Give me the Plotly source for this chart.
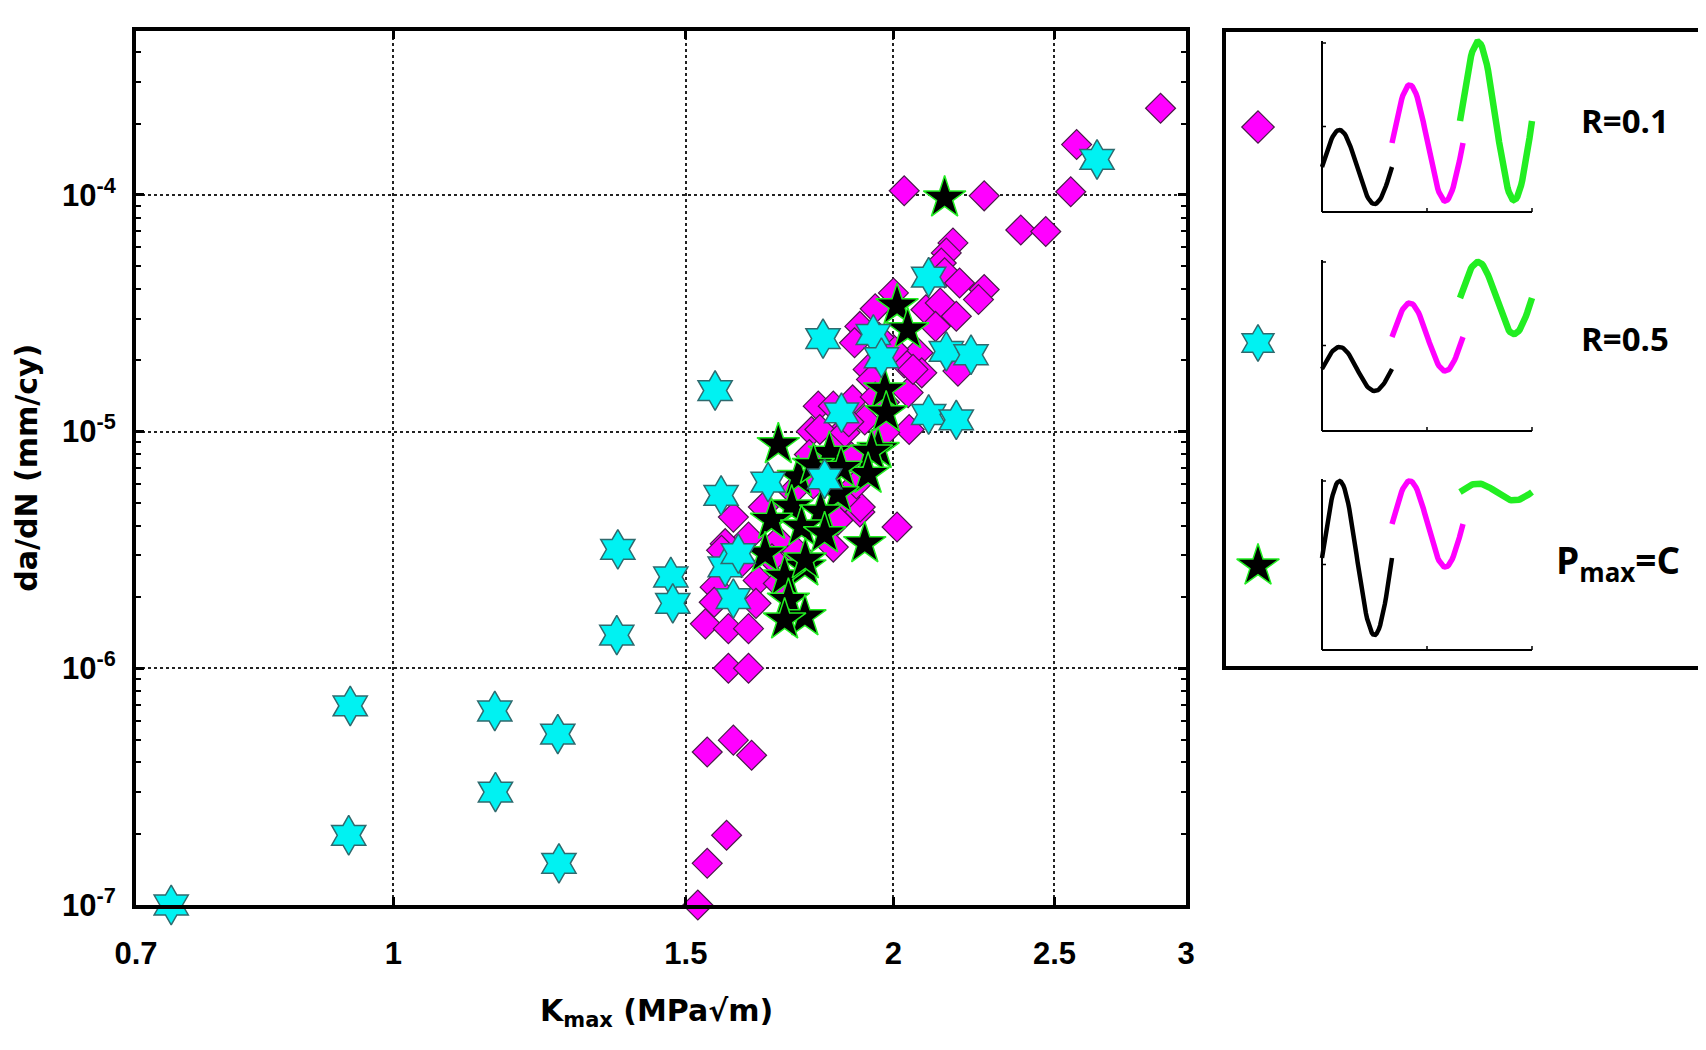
import numpy as np
import plotly.graph_objects as go

# ---------------- data ----------------
r01_kmax = [2.896, 2.578, 2.557, 2.03, 2.268, 2.386, 2.47, 2.172, 2.152, 2.137, 2.147, 2.192,
            2.268, 2.25, 2.0, 2.092, 2.134, 2.182, 2.12, 2.187, 2.069, 2.08, 2.041, 2.044,
            1.909, 1.895, 1.931, 1.94, 2.03, 1.802, 1.785, 1.852, 1.922, 1.84, 1.89, 1.975,
            2.0, 2.055, 1.95, 2.01, 1.909, 1.976, 1.806, 1.87, 1.887, 1.91, 1.602, 1.852,
            1.87, 1.67, 1.636, 1.584, 1.576, 1.84, 1.705, 1.658, 1.705, 1.562, 1.653, 1.56,
            1.541, 1.591, 1.636, 1.591, 1.636, 1.545, 1.602, 1.643, 1.587, 1.545, 1.525,
            1.74, 1.79, 1.82, 1.78, 1.88, 1.95, 1.62, 1.69, 1.75, 1.9, 1.96]
r01_dadn = [2.32e-4, 1.63e-4, 1.03e-4, 1.04e-4, 9.9e-5, 7.1e-5, 7.0e-5, 6.26e-5, 5.68e-5, 5.15e-5, 4.68e-5, 4.24e-5,
            3.98e-5, 3.61e-5, 3.85e-5, 3.27e-5, 3.49e-5, 3.07e-5, 2.78e-5, 1.8e-5, 2.15e-5, 1.77e-5, 1.46e-5, 1.02e-5,
            2.78e-5, 2.37e-5, 1.83e-5, 1.66e-5, 1.95e-5, 1.28e-5, 1.0e-5, 9.6e-6, 1.12e-5, 1.28e-5, 1.36e-5, 1.33e-5,
            2.22e-5, 1.83e-5, 3.3e-5, 3.95e-6, 4.57e-6, 9.9e-6, 1.02e-5, 9.9e-6, 7.8e-6, 4.8e-6, 4.35e-6, 4.22e-6,
            5.28e-6, 4.8e-6, 3.58e-6, 3.36e-6, 3.15e-6, 3.25e-6, 3.47e-6, 2.35e-6, 2.28e-6, 2.2e-6, 1.88e-6, 1.9e-6,
            1.54e-6, 1.47e-6, 1.47e-6, 1.0e-6, 1.0e-6, 4.43e-7, 4.97e-7, 4.29e-7, 1.97e-7, 1.5e-7, 1.0e-7,
            5.6e-6, 6.0e-6, 7.0e-6, 8.0e-6, 1.1e-5, 1.4e-5, 2.8e-6, 2.9e-6, 3.1e-6, 6.0e-6, 2.5e-5]

r05_kmax = [0.735, 0.942, 0.94, 1.151, 1.256, 1.152, 1.258, 1.365, 1.363, 1.469, 1.473, 1.562,
            1.575, 1.602, 1.584, 1.613, 1.681, 1.818, 1.814, 1.861, 1.945, 1.967, 2.10, 2.152,
            2.227, 2.10, 2.182, 2.652]
r05_dadn = [1.0e-7, 6.93e-7, 1.97e-7, 6.6e-7, 5.27e-7, 3.0e-7, 1.5e-7, 3.18e-6, 1.38e-6, 2.43e-6, 1.88e-6, 1.49e-5,
            5.37e-6, 1.97e-6, 2.68e-6, 3.05e-6, 6.11e-6, 6.31e-6, 2.47e-5, 1.2e-5, 2.57e-5, 2.05e-5, 4.49e-5, 2.18e-5,
            2.11e-5, 1.18e-5, 1.12e-5, 1.41e-4]

pmax_kmax = [2.147, 2.01, 2.04, 1.976, 1.98, 1.958, 1.705, 1.83, 1.94, 1.931, 1.753, 1.852,
             1.737, 1.808, 1.689, 1.761, 1.818, 1.922, 1.674, 1.769, 1.72, 1.729, 1.769, 1.72,
             1.77, 1.79, 1.86]
pmax_dadn = [9.7e-5, 3.4e-5, 2.69e-5, 1.5e-5, 1.2e-5, 8.4e-6, 8.8e-6, 8.1e-6, 8.2e-6, 6.6e-6, 6.4e-6, 5.46e-6,
             4.8e-6, 4.57e-6, 4.22e-6, 3.95e-6, 3.7e-6, 3.36e-6, 3.05e-6, 2.68e-6, 2.43e-6, 1.94e-6, 1.65e-6, 1.6e-6,
             2.87e-6, 7.2e-6, 7.0e-6]

x_tickvals = [0.7, 1, 1.5, 2, 2.5, 3]
x_ticktext = ["0.7", "1", "1.5", "2", "2.5", "3"]
y_tickvals = [1e-7, 1e-6, 1e-5, 1e-4]
y_ticktext = ["10<sup>-7</sup>", "10<sup>-6</sup>", "10<sup>-5</sup>", "10<sup>-4</sup>"]
y_minor_vals = [m * 10.0 ** e for e in range(-7, -3) for m in range(2, 10)] + [2e-4, 3e-4, 4e-4]

x_title = "K<sub>max</sub> (MPa√m)"
y_title = "da/dN (mm/cy)"
legend_labels = ["R=0.1", "R=0.5", "P<sub>max</sub>=C"]
legend_sizes = [33, 33, 37]

# legend wave icons: (mean height above icon baseline, amplitude) for black, magenta, green waves per row
wave_black = [(45, 37), (62, 22), (92, 77)]
wave_magenta = [(69, 58), (94, 34), (126, 43)]
wave_green = [(91, 79), (133, 36), (158, 8.5)]

# ---------------- style / layout ----------------
# page body has an 8 px margin: the figure starts at screen (8, 8)
OFF = 8
SW, SH = 1706, 1050            # screen size
FW, FH = SW - OFF, SH - 2 * OFF  # figure size
PL, PR, PT, PB = 136, 1186, 30.5, 905   # plot frame in screen px


def fx(v):
    return (v - OFF) / FW


def fy(v):
    return 1 - (v - OFF) / FH


MAG = "#ff00ff"
CYA = "#00f2f2"
DIA_SIZE = 23
HEX_SIZE = 30
STAR_SIZE = 32

tick_font = dict(family="Liberation Sans, Arial, sans-serif", size=31, color="black", weight="bold")
title_font = dict(family="DejaVu Sans, sans-serif", size=30, color="black", weight="bold")

fig = go.Figure()

fig.add_trace(go.Scatter(
    x=r01_kmax, y=r01_dadn, mode="markers", name="R=0.1",
    marker=dict(symbol="diamond", size=DIA_SIZE, color=MAG, line=dict(color="#4a1a4a", width=1.2)),
    xaxis="x", yaxis="y", cliponaxis=False))
fig.add_trace(go.Scatter(
    x=pmax_kmax, y=pmax_dadn, mode="markers", name="Pmax=C",
    marker=dict(symbol="star", size=STAR_SIZE, color="black", line=dict(color="#22ee22", width=1.5)),
    xaxis="x", yaxis="y", cliponaxis=False))
fig.add_trace(go.Scatter(
    x=r05_kmax, y=r05_dadn, mode="markers", name="R=0.5",
    marker=dict(symbol="hexagram", size=HEX_SIZE, color=CYA, line=dict(color="#2f6a6e", width=1.5)),
    xaxis="x", yaxis="y", cliponaxis=False))

# ---------------- custom legend (drawn on a screen-pixel overlay axis) ----------------
box = dict(x0=1224, y0=30, x1=1703, y1=668)
row_base = [212, 431, 650]       # icon axis baseline (px)
row_top = [41, 260, 479]
icon_x0, icon_x1, icon_mid = 1322, 1532, 1427
marker_x = 1258
marker_y = [127, 343, 566]
text_x = [1625, 1625, 1618]
text_y = [120, 338, 562]
seg = [(1322, 1392, "black", 4.5, wave_black),
       (1392, 1463, MAG, 5.5, wave_magenta),
       (1460, 1532, "#22ee22", 6.5, wave_green)]

shapes = [dict(type="rect", xref="x2", yref="y2", **box, line=dict(color="black", width=4))]

for i in range(3):
    b, t = row_base[i], row_top[i]
    shapes.append(dict(type="line", xref="x2", yref="y2", x0=icon_x0, x1=icon_x0, y0=t, y1=b,
                       line=dict(color="black", width=2)))
    shapes.append(dict(type="line", xref="x2", yref="y2", x0=icon_x0, x1=icon_x1, y0=b, y1=b,
                       line=dict(color="black", width=2)))
    for tx in (icon_mid, icon_x1):
        shapes.append(dict(type="line", xref="x2", yref="y2", x0=tx, x1=tx, y0=b, y1=b - 4,
                           line=dict(color="black", width=1.5)))
    for ty in (t + 2, (t + b) / 2):
        shapes.append(dict(type="line", xref="x2", yref="y2", x0=icon_x0, x1=icon_x0 + 4, y0=ty, y1=ty,
                           line=dict(color="black", width=1.5)))
    for (xa, xb, col, lw, params) in seg:
        mean, amp = params[i]
        xs = np.linspace(xa, xb, 60)
        ys = b - (mean + amp * np.sin(2 * np.pi * (xs - xa) / (xb - xa)))
        fig.add_trace(go.Scatter(x=xs, y=ys, mode="lines", line=dict(color=col, width=lw),
                                 xaxis="x2", yaxis="y2", hoverinfo="skip", showlegend=False))

fig.add_trace(go.Scatter(x=[marker_x], y=[marker_y[0]], mode="markers", xaxis="x2", yaxis="y2",
                         marker=dict(symbol="diamond", size=DIA_SIZE + 2, color=MAG,
                                     line=dict(color="#4a1a4a", width=1.2)), showlegend=False))
fig.add_trace(go.Scatter(x=[marker_x], y=[marker_y[1]], mode="markers", xaxis="x2", yaxis="y2",
                         marker=dict(symbol="hexagram", size=HEX_SIZE - 2, color=CYA,
                                     line=dict(color="#2f6a6e", width=1.5)), showlegend=False))
fig.add_trace(go.Scatter(x=[marker_x], y=[marker_y[2]], mode="markers", xaxis="x2", yaxis="y2",
                         marker=dict(symbol="star", size=STAR_SIZE, color="black",
                                     line=dict(color="#22ee22", width=1.5)), showlegend=False))

annotations = []
for lab, tx, ty, fs in zip(legend_labels, text_x, text_y, legend_sizes):
    annotations.append(dict(xref="x2", yref="y2", x=tx, y=ty, text=lab, showarrow=False,
                            font=dict(family="Open Sans, sans-serif", size=fs, color="black", weight="bold"),
                            xanchor="center", yanchor="middle"))
annotations.append(dict(xref="x2", yref="y2", x=(PL + PR) / 2 - 5, y=1012, text=x_title, showarrow=False,
                        font=title_font, xanchor="center", yanchor="middle"))
annotations.append(dict(xref="x2", yref="y2", x=27, y=(PT + PB) / 2, text=y_title, showarrow=False,
                        font=title_font, textangle=-90, xanchor="center", yanchor="middle"))

axis_common = dict(showline=True, linewidth=4, linecolor="black", mirror="ticks",
                   ticks="inside", ticklen=8, tickwidth=3, tickcolor="black",
                   showgrid=True, gridcolor="#222222", gridwidth=1.5, griddash="dot",
                   zeroline=False, automargin=False, tickfont=tick_font)

fig.update_layout(
    width=FW, height=FH,
    margin=dict(l=0, r=0, t=0, b=0),
    paper_bgcolor="white", plot_bgcolor="rgba(0,0,0,0)",
    showlegend=False,
    xaxis=dict(type="log", domain=[fx(PL), fx(PR)], anchor="y",
               range=[np.log10(0.7), np.log10(3)], tickmode="array",
               tickvals=x_tickvals, ticktext=x_ticktext, ticklabelstandoff=18, **axis_common),
    yaxis=dict(type="log", domain=[fy(PB), fy(PT)], anchor="x",
               range=[-7, -3.306], tickmode="array",
               tickvals=y_tickvals, ticktext=y_ticktext, ticklabelstandoff=10,
               minor=dict(tickmode="array", tickvals=y_minor_vals, ticks="inside", ticklen=5,
                          tickwidth=2, tickcolor="black", showgrid=False),
               **axis_common),
    xaxis2=dict(domain=[0, 1], range=[OFF, OFF + FW], anchor="y2", visible=False, fixedrange=True),
    yaxis2=dict(domain=[0, 1], range=[OFF + FH, OFF], anchor="x2", visible=False, fixedrange=True),
    shapes=shapes,
    annotations=annotations,
)

fig.write_html("out.html")
